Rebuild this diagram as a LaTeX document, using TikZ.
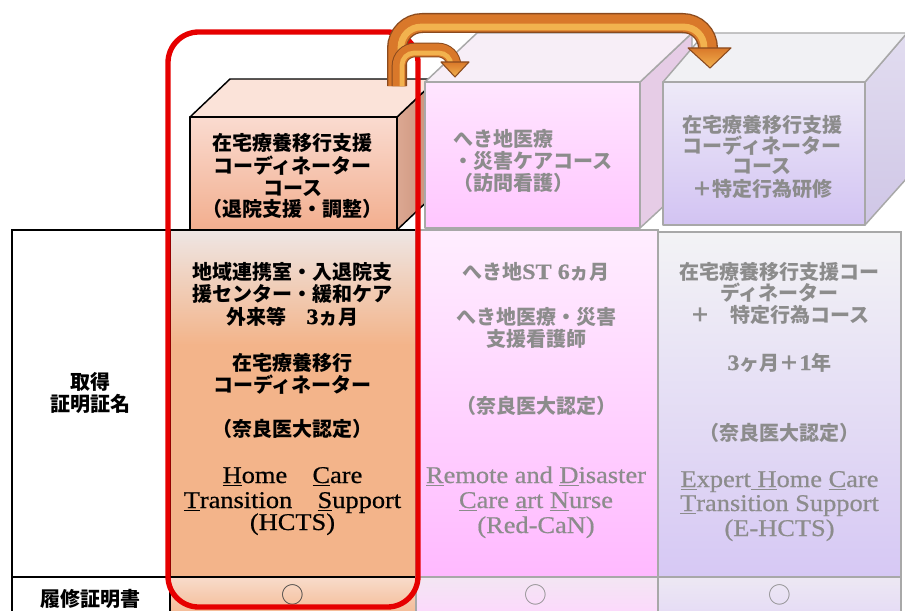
\documentclass[tikz,border=0pt]{standalone}
\usepackage{fontspec}
\setmainfont{Liberation Serif}
\newfontfamily\jpf{Noto Sans CJK JP}
\newfontfamily\enf{Liberation Serif}[FakeStretch=1.1,FakeBold=0.6]
\newcommand{\jsty}{\jpf\bfseries\fontsize{15}{17}\selectfont}
\newcommand{\esty}{\enf\fontsize{18}{19}\selectfont}
\newcommand{\dg}[1]{{\enf\fontsize{16.5}{17}\selectfont #1}}
\definecolor{txtgrey}{HTML}{8C8C8C}
\definecolor{lgrey}{HTML}{A8A8A8}
\definecolor{cAtop}{HTML}{EEE6E4}
\definecolor{cAmid}{HTML}{F3B48A}
\definecolor{cArt}{HTML}{F8DCCB}
\definecolor{cArb}{HTML}{F3B085}
\definecolor{kAft}{HTML}{FADBD0}
\definecolor{kAfb}{HTML}{F2AE8E}
\definecolor{kAtp}{HTML}{FBE3D9}
\definecolor{kAsl}{HTML}{DCA892}
\definecolor{kAsr}{HTML}{C68E76}
\definecolor{cBtop}{HTML}{FFEEFF}
\definecolor{cBbot}{HTML}{FFB9FF}
\definecolor{cBrt}{HTML}{F3E6F3}
\definecolor{cBrb}{HTML}{FFD4FF}
\definecolor{kBft}{HTML}{FFE6FF}
\definecolor{kBfb}{HTML}{FFC6FF}
\definecolor{kBtp}{HTML}{F7EEF7}
\definecolor{kBsd}{HTML}{E6CCE6}
\definecolor{cCtop}{HTML}{F3F3F5}
\definecolor{cCbot}{HTML}{D6C8F4}
\definecolor{cCrt}{HTML}{EDE8F3}
\definecolor{cCrb}{HTML}{E3D8F6}
\definecolor{kCft}{HTML}{EEEAF8}
\definecolor{kCfb}{HTML}{D2C3F2}
\definecolor{kCtp}{HTML}{F1F1F4}
\definecolor{kCsd}{HTML}{CFC6E6}
\definecolor{redline}{HTML}{E60000}
\definecolor{arrdark}{HTML}{8A4A1E}
\definecolor{arrmid}{HTML}{D9782A}
\definecolor{arrlight}{HTML}{F2B24E}
\tikzset{
  jt/.style={anchor=base, inner sep=0pt, font=\jsty},
  et/.style={anchor=base, inner sep=0pt, font=\esty},
  gt/.style={text=txtgrey},
  tbl/.style={draw=black, line width=1.1pt},
  gtbl/.style={draw=lgrey, line width=1.1pt},
  cubeA/.style={draw=black, line width=1.1pt, line join=round},
  cubeG/.style={draw=lgrey, line width=1.1pt, line join=round},
  ring/.style={inner sep=0pt, font=\jpf\fontsize{17}{17}\selectfont},
}
\begin{document}
\begin{tikzpicture}[x=0.75pt,y=-0.75pt]
\useasboundingbox (0,0) rectangle (905,610);
\fill[white] (0,0) rectangle (905,610);

% ---------- table ----------
\draw[tbl] (12,230) rectangle (170,577);
\draw[tbl] (12,577) rectangle (170,625);
% column 1
\shade[top color=cAtop, bottom color=cAmid] (170,230) rectangle (416,345);
\fill[cAmid] (170,344) rectangle (416,577);
\shade[top color=cArt, bottom color=cArb] (170,577) rectangle (416,625);
\draw[tbl] (170,230) rectangle (416,577);
\draw[tbl] (170,577) rectangle (416,625);
% column 2
\shade[top color=cBtop, bottom color=cBbot] (416,230) rectangle (658,577);
\shade[top color=cBrt, bottom color=cBrb] (416,577) rectangle (658,625);
\draw[gtbl] (416,230) rectangle (658,577);
\draw[gtbl] (416,577) rectangle (658,625);
% column 3
\shade[top color=cCtop, bottom color=cCbot] (658,232) rectangle (901,577);
\shade[top color=cCrt, bottom color=cCrb] (658,577) rectangle (901,625);
\draw[gtbl] (658,232) rectangle (901,577);
\draw[gtbl] (658,577) rectangle (901,625);

% ---------- cubes ----------
% cube 1
\shadedraw[cubeA, left color=kAsl, right color=kAsr] (397,117) -- (437,79) -- (437,192) -- (397,230) -- cycle;
\filldraw[cubeA, fill=kAtp] (190,117) -- (230,79) -- (437,79) -- (397,117) -- cycle;
\shadedraw[cubeA, top color=kAft, bottom color=kAfb] (190,117) rectangle (397,230);
% cube 2
\filldraw[cubeG, fill=kBsd] (640,82) -- (692,33) -- (692,180) -- (640,228) -- cycle;
\filldraw[cubeG, fill=kBtp] (425,82) -- (477,33) -- (692,33) -- (640,82) -- cycle;
\shadedraw[cubeG, top color=kBft, bottom color=kBfb] (425,82) rectangle (640,228);
% cube 3
\shadedraw[cubeG, top color=kCsd!60!white, bottom color=kCsd] (865,82) -- (907,33) -- (907,178) -- (865,225) -- cycle;
\filldraw[cubeG, fill=kCtp] (663,82) -- (705,33) -- (907,33) -- (865,82) -- cycle;
\shadedraw[cubeG, top color=kCft, bottom color=kCfb] (663,82) rectangle (865,225);

% ---------- cube texts ----------
\node[jt] (k11) at (292.5,150) {在宅療養移行支援};
\node[jt] (k12) at (292.5,173) {コーディネーター};
\node[jt] (k13) at (292.5,195) {コース};
\node[jt] (k14) at (292.5,216) {（退院支援・調整）};

\node[jt, gt, anchor=base west] (k21) at (453,146) {へき地医療};
\node[jt, gt, anchor=base west] (k22) at (453,168) {・災害ケアコース};
\node[jt, gt, anchor=base west] (k23) at (453,190) {（訪問看護）};

\node[jt, gt] (k31) at (762,132) {在宅療養移行支援};
\node[jt, gt] (k32) at (762,153) {コーディネーター};
\node[jt, gt] (k33) at (762,173) {コース};
\node[jt, gt] (k34) at (762,196) {＋特定行為研修};

% ---------- label column ----------
\node[jt] (l1) at (90,389) {取得};
\node[jt] (l2) at (90,411) {証明証名};
\node[jt] (l3) at (90,606) {履修証明書};

% ---------- column 1 texts ----------
\node[jt] (t11) at (292.5,279) {地域連携室・入退院支};
\node[jt] (t12) at (292.5,301) {援センター・緩和ケア};
\node[jt] (t13) at (292.5,324) {外来等　\dg{3}ヵ月};
\node[jt] (t14) at (292.5,370) {在宅療養移行};
\node[jt] (t15) at (292.5,392) {コーディネーター};
\node[jt] (t16) at (292.5,436) {（奈良医大認定）};
\node[et] (t17) at (292.5,483) {\underline{H}ome\hspace{19pt}\underline{C}are};
\node[et] (t18) at (292.5,508) {\underline{T}ransition\hspace{19pt}\underline{S}upport};
\node[et] (t19) at (292.5,530) {(HCTS)};

% ---------- column 2 texts ----------
\node[jt, gt] (t21) at (536,279) {へき地\dg{ST 6}ヵ月};
\node[jt, gt] (t22) at (536,324) {へき地医療・災害};
\node[jt, gt] (t23) at (536,346) {支援看護師};
\node[jt, gt] (t24) at (536,413) {（奈良医大認定）};
\node[et, gt] (t25) at (536,483) {\underline{R}emote and \underline{D}isaster};
\node[et, gt] (t26) at (536,508) {\underline{C}are \underline{a}rt \underline{N}urse};
\node[et, gt] (t27) at (536,533) {(Red-CaN)};

% ---------- column 3 texts ----------
\node[jt, gt] (t31) at (779.5,279) {在宅療養移行支援コー};
\node[jt, gt] (t32) at (779.5,300) {ディネーター};
\node[jt, gt] (t33) at (779.5,322) {＋　特定行為コース};
\node[jt, gt] (t34) at (779.5,370) {\dg{3}ヶ月＋\dg{1}年};
\node[jt, gt] (t35) at (779.5,440) {（奈良医大認定）};
\node[et, gt] (t36) at (779.5,487) {\underline{E}xpert\underline{ H}ome \underline{C}are};
\node[et, gt] (t37) at (779.5,511) {\underline{T}ransition Support};
\node[et, gt] (t38) at (779.5,536) {(E-HCTS)};

% ---------- row 2 circles ----------
\node[ring, text=black!75] (o1) at (292.5,595) {○};
\node[ring, text=txtgrey] (o2) at (536,595) {○};
\node[ring, text=txtgrey] (o3) at (779.5,595) {○};

% ---------- red frame ----------
\draw[redline, line width=4pt, rounded corners=23pt] (168,32) rectangle (418,607);

% ---------- big arrow ----------
\coordinate (ba0) at (397,86);
\coordinate (ba1) at (397,23);
\coordinate (ba2) at (708,23);
\coordinate (ba3) at (708,49);
\coordinate (bl0) at (401,86);
\coordinate (bl1) at (401,27);
\coordinate (bl2) at (704,27);
\coordinate (bl3) at (704,49);
\draw[arrdark, line width=15pt, rounded corners=19pt] (ba0) -- (ba1) -- (ba2) -- (ba3);
\draw[arrmid, line width=13pt, rounded corners=19pt] (ba0) -- (ba1) -- (ba2) -- (ba3);
\draw[arrlight, line width=5pt, rounded corners=15pt] (bl0) -- (bl1) -- (bl2) -- (bl3);
\coordinate (bh1) at (688,48);
\coordinate (bh2) at (731,48);
\coordinate (bht) at (710,68);
\shadedraw[draw=arrdark, line width=0.8pt, line join=round, top color=arrmid, bottom color=arrlight] (bh1) -- (bh2) -- (bht) -- cycle;

% ---------- small arrow ----------
\coordinate (sa0) at (399,86);
\coordinate (sa1) at (399,50);
\coordinate (sa2) at (454,50);
\coordinate (sa3) at (454,63);
\coordinate (sl0) at (402,86);
\coordinate (sl1) at (402,53);
\coordinate (sl2) at (451,53);
\coordinate (sl3) at (451,63);
\draw[arrdark, line width=11pt, rounded corners=12pt] (sa0) -- (sa1) -- (sa2) -- (sa3);
\draw[arrmid, line width=9.5pt, rounded corners=12pt] (sa0) -- (sa1) -- (sa2) -- (sa3);
\draw[arrlight, line width=3.5pt, rounded corners=9pt] (sl0) -- (sl1) -- (sl2) -- (sl3);
\coordinate (sh1) at (441,62);
\coordinate (sh2) at (469,62);
\coordinate (sht) at (455,77);
\shadedraw[draw=arrdark, line width=0.8pt, line join=round, top color=arrmid, bottom color=arrlight] (sh1) -- (sh2) -- (sht) -- cycle;
\end{tikzpicture}
\end{document}
